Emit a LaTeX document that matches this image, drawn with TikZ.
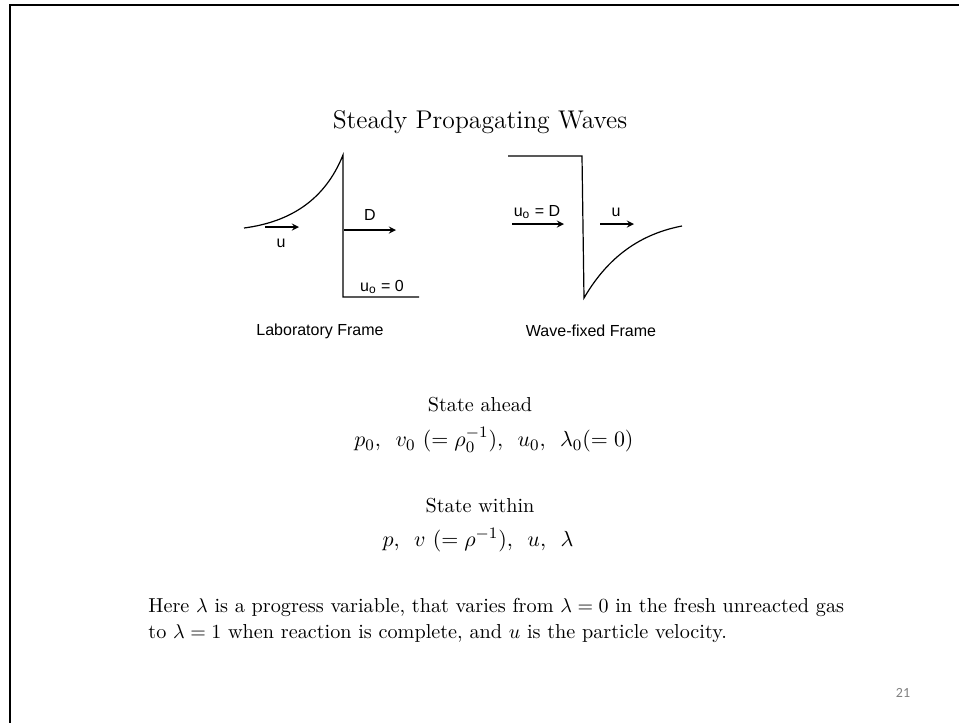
\documentclass[tikz,border=0pt]{standalone}
\usepackage{fontspec}
\newfontfamily\helv{Liberation Sans}
\newfontfamily\slidenum{Carlito}
\begin{document}
\begin{tikzpicture}[
      x=0.5pt, y=-0.5pt,
      line/.style={line width=0.6pt},
      vel/.style={->, line width=0.6pt, >=stealth},
      lbl/.style={font=\helv\fontsize{8}{9.5}\selectfont, inner sep=1pt},
      txt/.style={font=\fontsize{10.1}{12}\selectfont, inner sep=0pt},
    ]
    \useasboundingbox (0,0) rectangle (959,723);
    % slide frame
    \draw[line width=1.2pt] (10,723) -- (10,5) -- (959,5);
    \node[txt, font=\fontsize{12.8}{15}\selectfont] (title) at (480,122) {Steady Propagating Waves};
    % laboratory frame
    \coordinate (labA) at (244,228);
    \coordinate (labTop) at (343,155);
    \coordinate (labBot) at (343,297);
    \coordinate (labEnd) at (419,297);
    \draw[line] (labA) .. controls (290,222) and (325,200) .. (labTop) -- (labBot) -- (labEnd);
    \coordinate (uA) at (265,227);
    \coordinate (uB) at (299,227);
    \draw[vel] (uA) -- (uB);
    \node[lbl] (ulab) at (281,243) {u};
    \coordinate (dA) at (344,230);
    \coordinate (dB) at (396,230);
    \draw[vel] (dA) -- (dB);
    \node[lbl] (dlab) at (370,215) {D};
    \node[lbl] (uzero) at (382,287) {u\textsubscript{o} = 0};
    \node[lbl] (labname) at (320,331) {Laboratory Frame};
    % wave-fixed frame
    \coordinate (wA) at (508,156);
    \coordinate (wTop) at (582,156);
    \coordinate (wBot) at (584,298);
    \coordinate (wEnd) at (682,226);
    \draw[line] (wA) -- (wTop) -- (wBot) .. controls (605,262) and (635,235) .. (wEnd);
    \coordinate (u0A) at (512,224);
    \coordinate (u0B) at (564,224);
    \draw[vel] (u0A) -- (u0B);
    \node[lbl] (u0lab) at (537,212) {u\textsubscript{o} = D};
    \coordinate (u1A) at (600,224);
    \coordinate (u1B) at (634,224);
    \draw[vel] (u1A) -- (u1B);
    \node[lbl] (u1lab) at (616,212) {u};
    \node[lbl] (wavename) at (591,331) {Wave-fixed Frame};
    % states
    \node[txt] (ahead) at (480,405) {State ahead};
    \node[txt, font=\fontsize{11}{13}\selectfont] (aheadvars) at (494,440) {$p_0,\ \,v_0\ (=\rho_0^{-1}),\ \,u_0,\ \,\lambda_0(=0)$};
    \node[txt] (within) at (480,506) {State within};
    \node[txt, font=\fontsize{11}{13}\selectfont] (withinvars) at (478,540) {$p,\ \,v\ (=\rho^{-1}),\ \,u,\ \,\lambda$};
    \node[txt, anchor=west] (para1) at (148,607) {Here $\lambda$ is a progress variable, that varies from $\lambda=0$ in the fresh unreacted gas};
    \node[txt, anchor=west] (para2) at (148,634) {to $\lambda=1$ when reaction is complete, and $u$ is the particle velocity.};
    \node[font=\slidenum\fontsize{7}{8}\selectfont, text=black!50] (page) at (903,693) {21};
\end{tikzpicture}
\end{document}
